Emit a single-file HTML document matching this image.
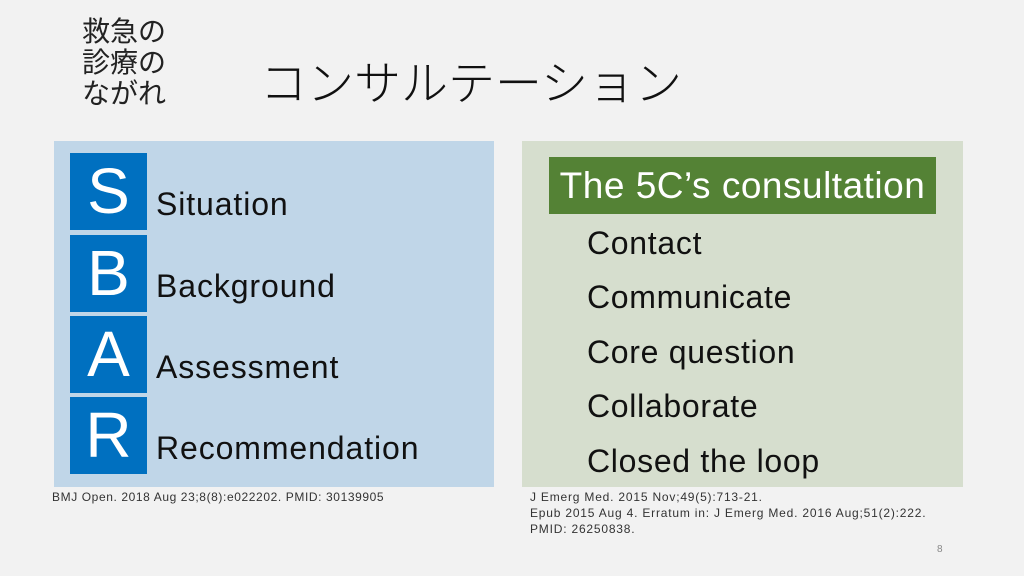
<!DOCTYPE html>
<html><head><meta charset="utf-8"><style>
body{margin:0;width:1024px;height:576px;background:#f2f2f2;position:relative;overflow:hidden;font-family:"Liberation Sans","Noto Sans CJK JP",sans-serif}
.a{position:absolute;white-space:nowrap}
.sq{position:absolute;left:70px;width:77px;height:77px;background:#0070c0;color:#fff;font-size:64px;line-height:77px;text-align:center}
.lt{position:absolute;left:156px;font-size:32px;letter-spacing:0.9px;color:#111;line-height:40px}
.rt{position:absolute;left:587px;font-size:32px;letter-spacing:0.7px;color:#111;line-height:40px}
</style></head><body>
<div class="a" style="left:82px;top:16px;font-size:28px;line-height:31px;color:#222">救急の<br>診療の<br>ながれ</div>
<div class="a" style="left:260px;top:50px;font-size:47px;color:#111;font-family:'Noto Sans CJK JP',sans-serif;line-height:60px;font-weight:300">コンサルテーション</div>
<div class="a" style="left:54px;top:141px;width:440px;height:346px;background:#c0d6e8"></div>
<div class="sq" style="top:153px">S</div>
<div class="sq" style="top:235px">B</div>
<div class="sq" style="top:316px">A</div>
<div class="sq" style="top:397px">R</div>
<div class="lt" style="top:184px">Situation</div>
<div class="lt" style="top:266px">Background</div>
<div class="lt" style="top:347px">Assessment</div>
<div class="lt" style="top:428px">Recommendation</div>
<div class="a" style="left:522px;top:141px;width:441px;height:346px;background:#d6dece"></div>
<div class="a" style="left:549px;top:157px;width:387px;height:57px;background:#548235;color:#fff;font-size:37px;letter-spacing:0.5px;line-height:57px;text-align:center">The 5C’s consultation</div>
<div class="rt" style="top:223px">Contact</div>
<div class="rt" style="top:277px">Communicate</div>
<div class="rt" style="top:332px">Core question</div>
<div class="rt" style="top:386px">Collaborate</div>
<div class="rt" style="top:441px">Closed the loop</div>
<div class="a" style="left:52px;top:490px;font-size:12px;letter-spacing:0.6px;color:#333">BMJ Open. 2018 Aug 23;8(8):e022202. PMID: 30139905</div>
<div class="a" style="left:530px;top:489px;font-size:12px;letter-spacing:0.8px;color:#333;line-height:16px">J Emerg Med. 2015 Nov;49(5):713-21.<br>Epub 2015 Aug 4. Erratum in: J Emerg Med. 2016 Aug;51(2):222.<br>PMID: 26250838.</div>
<div class="a" style="left:937px;top:544px;font-size:10px;color:#888">8</div>
</body></html>
